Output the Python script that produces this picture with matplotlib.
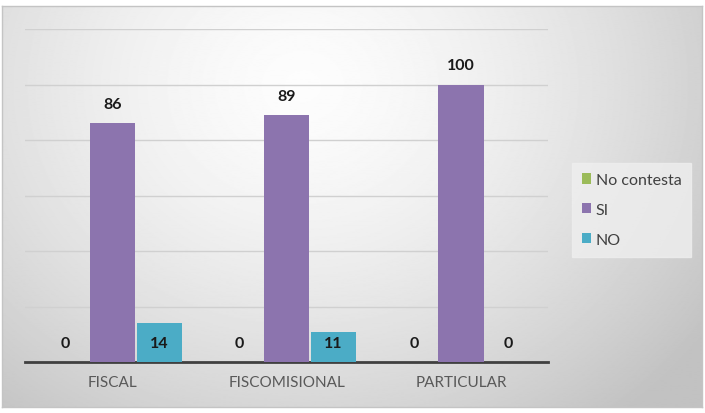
import numpy as np
import matplotlib.pyplot as plt

categorias = ["FISCAL", "FISCOMISIONAL", "PARTICULAR"]
no_contesta = [0, 0, 0]
si = [86, 89, 100]
no = [14, 11, 0]

series = [("No contesta", no_contesta, "#9bbb59"),
          ("SI", si, "#8c74ae"),
          ("NO", no, "#4bacc6")]

plt.rcParams['font.family'] = ['Lato', 'DejaVu Sans']

fig = plt.figure(figsize=(7.05, 4.14), dpi=100)

# gradient background frame
bg = fig.add_axes([0.003, 0.014, 0.993, 0.969])
h, w = 300, 700
yy, xx = np.mgrid[0:h, 0:w]
r = np.sqrt(((xx - 300) / 480.0) ** 2 + ((yy - 60) / 310.0) ** 2)
grad = np.clip(0.99 - 0.22 * r ** 1.5, 0.76, 1.0)
bg.imshow(grad, cmap="gray", vmin=0, vmax=1, aspect="auto", extent=[0, 1, 0, 1])
bg.set_xlim(0, 1)
bg.set_ylim(0, 1)
bg.set_xticks([])
bg.set_yticks([])
for s in bg.spines.values():
    s.set_color("#c4c4c4")
    s.set_linewidth(1)

ax = fig.add_axes([0.0355, 0.123, 0.742, 0.8045])
ax.patch.set_alpha(0)
x = np.arange(len(categorias))
ancho = 0.26
paso = 0.27
for i, (nombre, vals, color) in enumerate(series):
    pos = x + (i - 1) * paso
    ax.bar(pos, vals, ancho, color=color, label=nombre, zorder=3)
    for p, v in zip(pos, vals):
        ty = v + 7 if v > 50 else 7
        ax.text(p, ty, str(v), ha="center", va="center", fontsize=11.5,
                fontweight="bold", color="#1a1a1a", zorder=4)

ax.set_xlim(-0.5, 2.5)
ax.set_ylim(0, 120)
ax.set_yticks(np.arange(20, 121, 20))
ax.yaxis.grid(True, color="#d0d0d0", linewidth=1)
ax.set_axisbelow(True)
ax.tick_params(axis="y", left=False, labelleft=False)
ax.tick_params(axis="x", length=0, pad=9, labelsize=11, labelcolor="#595959")
ax.set_xticks(x)
ax.set_xticklabels(categorias)
for k in ["top", "right", "left"]:
    ax.spines[k].set_visible(False)
ax.spines["bottom"].set_color("#404040")
ax.spines["bottom"].set_linewidth(2)

leg = fig.legend(loc="upper left", bbox_to_anchor=(0.80, 0.622), frameon=True,
                 fontsize=11.5, handlelength=0.6, handleheight=0.6,
                 handletextpad=0.3, labelspacing=1.0, borderpad=0.6)
leg.get_frame().set_facecolor("#efefef")
leg.get_frame().set_edgecolor("#efefef")
leg.get_frame().set_boxstyle("square", pad=0)
for t in leg.get_texts():
    t.set_color("#404040")

fig.savefig("out.png", dpi=100)
